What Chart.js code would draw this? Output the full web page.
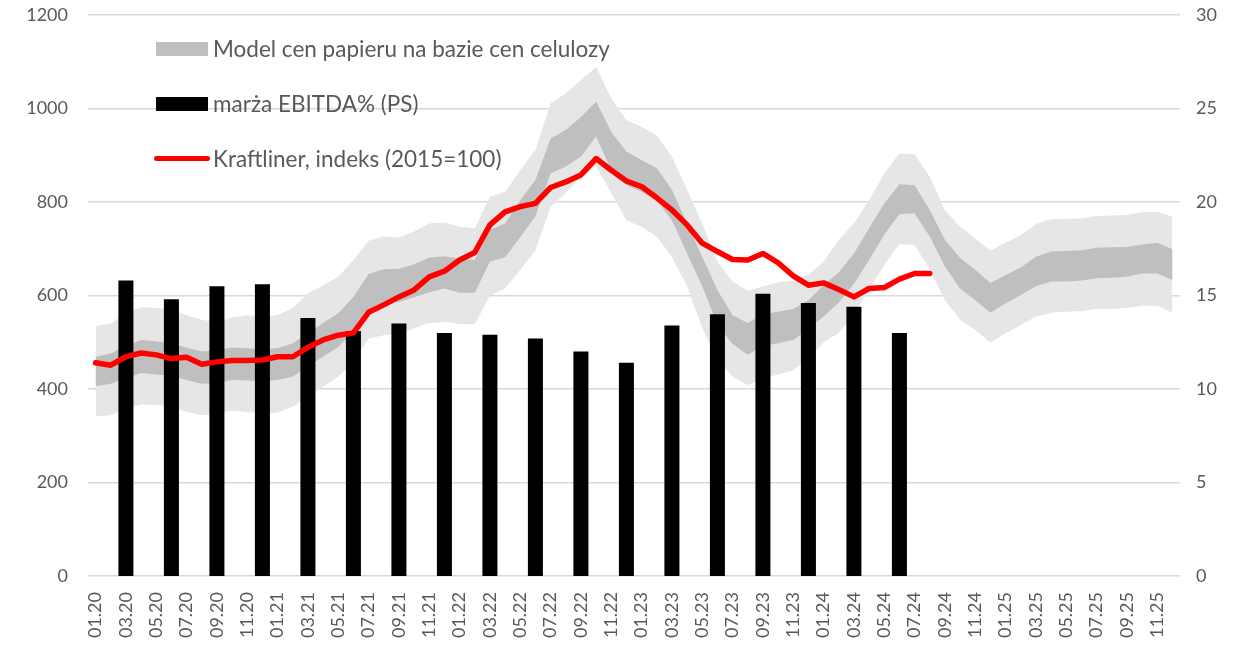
<!DOCTYPE html>
<html>
<head>
<meta charset="utf-8">
<script src="https://cdn.jsdelivr.net/npm/chart.js@4.4.0/dist/chart.umd.min.js"></script>
<style>
    body { margin: 0; background: #fff; }
    #wrap { position: relative; width: 1234px; height: 649px; }
    .legend-item { position: absolute; left: 156px; height: 24px; font-family: Lato, sans-serif; font-size: 22.5px; color: #595959; white-space: nowrap; }
    .legend-item .sw { position: absolute; left: 0; }
    .legend-item span { position: absolute; left: 57px; top: 0; line-height: 24px; }
</style>
</head>
<body>
<div id="wrap">
    <canvas id="chart" width="1234" height="649"></canvas>
    <div class="legend-item" style="top:37px"><div class="sw" style="top:5px;width:52px;height:14px;background:#bfbfbf"></div><span>Model cen papieru na bazie cen celulozy</span></div>
    <div class="legend-item" style="top:92px"><div class="sw" style="top:5px;width:52px;height:14px;background:#000"></div><span>marża EBITDA% (PS)</span></div>
    <div class="legend-item" style="top:147px"><div class="sw" style="top:9px;left:-2px;width:56px;height:5px;border-radius:3px;background:#f00"></div><span>Kraftliner, indeks (2015=100)</span></div>
</div>
<script>
// miesiące 01.20 - 12.25
const months = [];
for (let y = 20; y <= 25; y++) {
    for (let m = 1; m <= 12; m++) {
        months.push(String(m).padStart(2, '0') + '.' + y);
    }
}

// model cen papieru - pasmo zewnętrzne i wewnętrzne
const modelOuterHigh = [535, 540, 562, 575, 573, 570, 558, 548, 543, 553, 558, 555,
    558, 573, 605, 622, 640, 676, 717, 726, 724, 737, 754, 756,
    747, 744, 811, 822, 868, 911, 1011, 1032, 1061, 1089, 1022, 975,
    961, 943, 897, 826, 754, 672, 630, 610, 619, 628, 632, 645,
    672, 719, 754, 804, 861, 904, 902, 854, 783, 747, 722, 696,
    713, 729, 753, 763, 764, 765, 770, 771, 772, 778, 779, 769];
const modelInnerHigh = [469, 476, 492, 505, 502, 498, 489, 480, 483, 489, 487, 485,
    487, 498, 519, 541, 562, 597, 646, 656, 657, 667, 681, 684,
    679, 676, 740, 754, 804, 847, 936, 954, 982, 1015, 950, 908,
    890, 872, 826, 754, 683, 612, 558, 541, 560, 565, 571, 590,
    622, 650, 690, 744, 797, 838, 836, 783, 719, 680, 655, 627,
    644, 660, 683, 694, 695, 697, 702, 703, 704, 709, 713, 699];
const modelInnerLow = [406, 411, 423, 434, 431, 428, 419, 411, 413, 419, 418, 416,
    419, 426, 448, 469, 490, 523, 569, 582, 586, 596, 607, 615,
    606, 606, 672, 682, 725, 769, 861, 876, 897, 940, 868, 836,
    822, 804, 761, 690, 620, 538, 496, 473, 492, 498, 505, 528,
    555, 585, 625, 676, 730, 774, 776, 726, 662, 615, 590, 563,
    583, 601, 620, 630, 630, 632, 637, 638, 640, 647, 647, 633];
const modelOuterLow = [341, 344, 359, 367, 366, 362, 351, 344, 347, 354, 351, 348,
    350, 362, 384, 405, 426, 458, 508, 515, 518, 530, 541, 544,
    539, 538, 600, 615, 655, 697, 790, 819, 854, 876, 819, 761,
    747, 726, 683, 619, 530, 465, 426, 408, 423, 431, 440, 465,
    500, 520, 560, 612, 665, 710, 708, 655, 590, 548, 526, 499,
    519, 537, 555, 563, 565, 567, 571, 571, 573, 578, 578, 563];

// Kraftliner, indeks (2015=100), 01.20 - 08.24
const kraftliner = [456, 451, 469, 477, 473, 465, 468, 453, 458, 461, 461, 462,
    469, 469, 489, 505, 515, 520, 564, 580, 597, 612, 640, 652,
    676, 692, 751, 779, 790, 797, 831, 843, 858, 893, 868, 845,
    833, 809, 783, 751, 712, 694, 677, 676, 690, 670, 642, 622,
    627, 613, 597, 615, 617, 635, 647, 647];

// marża EBITDA% kwartalnie (prawa oś)
const ebitdaQuarters = ['03.20', '06.20', '09.20', '12.20', '03.21', '06.21', '09.21', '12.21',
    '03.22', '06.22', '09.22', '12.22', '03.23', '06.23', '09.23', '12.23', '03.24', '06.24'];
const ebitdaMargin = [15.8, 14.8, 15.5, 15.6, 13.8, 13.1, 13.5, 13.0,
    12.9, 12.7, 12.0, 11.4, 13.4, 14.0, 15.1, 14.6, 14.4, 13.0];

const ebitdaData = months.map(m => {
    const i = ebitdaQuarters.indexOf(m);
    return i >= 0 ? ebitdaMargin[i] : null;
});

const tickFont = { family: 'Lato, sans-serif', size: 18 };
const textColor = '#595959';

const bandLine = {
    type: 'line',
    yAxisID: 'y',
    borderWidth: 0,
    pointRadius: 0,
    tension: 0,
};

new Chart(document.getElementById('chart').getContext('2d'), {
    data: {
        labels: months,
        datasets: [
            { ...bandLine, label: 'outerHigh', data: modelOuterHigh, fill: '+1', backgroundColor: '#e6e6e6', order: 5 },
            { ...bandLine, label: 'outerLow', data: modelOuterLow, fill: false, order: 5 },
            { ...bandLine, label: 'innerHigh', data: modelInnerHigh, fill: '+1', backgroundColor: '#bfbfbf', order: 4 },
            { ...bandLine, label: 'innerLow', data: modelInnerLow, fill: false, order: 4 },
            {
                type: 'bar',
                label: 'marża EBITDA% (PS)',
                yAxisID: 'y1',
                data: ebitdaData,
                backgroundColor: '#000',
                barPercentage: 1,
                categoryPercentage: 0.99,
                order: 2,
            },
            {
                type: 'line',
                label: 'Kraftliner, indeks (2015=100)',
                yAxisID: 'y',
                data: kraftliner,
                borderColor: '#ff0000',
                borderWidth: 5.5,
                pointRadius: 0,
                fill: false,
                tension: 0,
                borderJoinStyle: 'round',
                borderCapStyle: 'round',
                order: 1,
            },
        ],
    },
    options: {
        responsive: false,
        animation: false,
        devicePixelRatio: 1,
        layout: { padding: { top: 15, left: 0, right: 0, bottom: 0 } },
        plugins: {
            legend: { display: false },
            tooltip: { enabled: false },
        },
        scales: {
            x: {
                offset: true,
                grid: { display: false },
                border: { display: false },
                ticks: {
                    autoSkip: false,
                    minRotation: 90,
                    maxRotation: 90,
                    padding: 8,
                    color: textColor,
                    font: tickFont,
                    callback: function (value, index) {
                        return index % 2 === 0 ? months[index] : '';
                    },
                },
                afterFit: s => { s.height = 73; },
            },
            y: {
                position: 'left',
                min: 0,
                max: 1200,
                ticks: { stepSize: 200, padding: 2, color: textColor, font: tickFont, callback: v => String(v) },
                grid: { color: '#d9d9d9', lineWidth: 1.5, drawTicks: true, tickLength: 18, tickColor: 'rgba(0,0,0,0)' },
                border: { display: false },
                afterFit: s => { s.width = 88; },
            },
            y1: {
                position: 'right',
                min: 0,
                max: 30,
                ticks: { stepSize: 5, padding: 2, color: textColor, font: tickFont, callback: v => String(v) },
                grid: { display: false, drawTicks: true, tickLength: 14, tickColor: 'rgba(0,0,0,0)' },
                border: { display: false },
                afterFit: s => { s.width = 54; },
            },
        },
    },
});
</script>
</body>
</html>
